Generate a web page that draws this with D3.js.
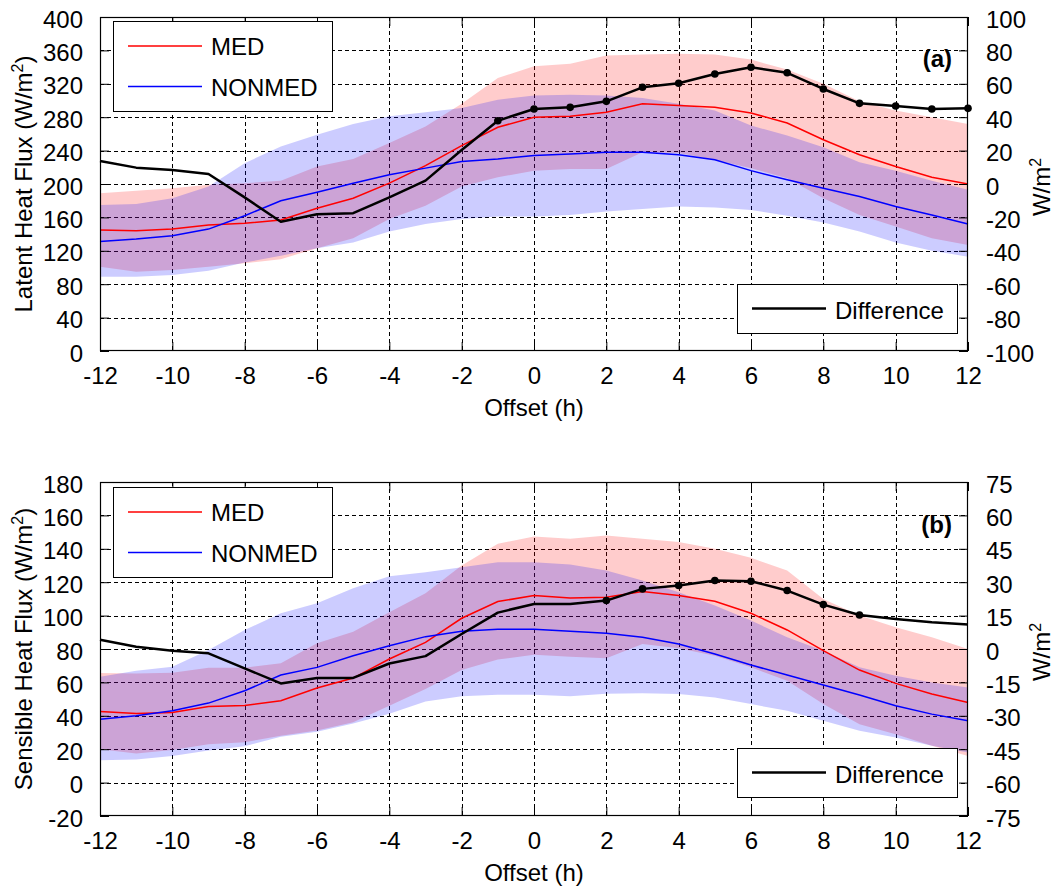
<!DOCTYPE html>
<html><head><meta charset="utf-8">
<script src="https://cdn.jsdelivr.net/npm/d3@7"></script>
<style>
body{margin:0;background:#fff}
svg{display:block}
text{font-family:"Liberation Sans",Arial,Helvetica,sans-serif;fill:#000}
</style>
</head><body>
<svg id="chart" width="1061" height="895"></svg>
<script>
// ---------- data ----------
const offsets = [-12,-11,-10,-9,-8,-7,-6,-5,-4,-3,-2,-1,0,1,2,3,4,5,6,7,8,9,10,11,12];
const xTicks = [-12,-10,-8,-6,-4,-2,0,2,4,6,8,10,12];
const seriesNames = ["MED","NONMED"];
const diffName = "Difference";

// panel (a) latent heat flux
const latentTicks = [0,40,80,120,160,200,240,280,320,360,400];
const latentDiffTicks = [-100,-80,-60,-40,-20,0,20,40,60,80,100];
const latentMed       = [145,144,146,151,153,157,171,183,201,222,246,268,280,281,286,296,294,292,285,273,253,235,221,208,200];
const latentMedUpper  = [189,192,195,199,201,204,221,230,249,269,296,327,341,344,354,355,356,355,349,337,320,299,288,280,272];
const latentMedLower  = [101,95,97,101,105,110,123,135,158,174,197,208,216,218,218,238,237,229,219,207,183,163,149,135,127];
const latentNonmed      = [131,134,138,146,162,180,190,201,211,219,227,230,234,236,238,238,235,229,216,205,195,185,173,163,152];
const latentNonmedUpper = [175,176,183,197,225,245,259,272,281,286,291,301,306,307,306,303,296,288,270,258,244,226,216,204,193];
const latentNonmedLower = [89,89,91,96,106,114,123,130,143,152,158,161,161,163,167,170,173,172,169,162,154,143,130,120,113];
const latentDiff = [13.8,9.8,8.4,6,-8,-22.6,-18.1,-17.5,-8,2,20.4,37.9,44.9,45.9,49.5,57.9,60.3,65.9,69.9,66.6,56.9,48.3,46.7,44.9,45.3];
const latentSigOffsets = [-1,0,1,2,3,4,5,6,7,8,9,10,11,12];

// panel (b) sensible heat flux
const sensibleTicks = [-20,0,20,40,60,80,100,120,140,160,180];
const sensibleDiffTicks = [-75,-60,-45,-30,-15,0,15,30,45,60,75];
const sensibleMed       = [42.6,41.4,42,45.6,46.2,49,56.6,62.6,74,84,98.4,108.4,112,110.6,111,114.4,112,108.6,101.4,91.4,79,67.4,59.4,53,48];
const sensibleMedUpper  = [65.6,65.4,65.8,68.8,68.8,71.4,83.4,90.4,102,113.4,130,143,147.4,146,148,146,144,140,134.6,127,110,100,93,87,80];
const sensibleMedLower  = [20,17.5,19.5,23,24.2,28,31.2,36.2,46,56,67.5,73.7,76.5,75.4,74.5,83,80.5,76,69,61,47,35,29,22,16];
const sensibleNonmed      = [38,40,43,47.6,55,64.4,69,76,82,87.4,90.6,91.8,91.8,90.6,89.4,87,83,77,70.4,64.4,58.4,52.4,46,41,37];
const sensibleNonmedUpper = [63.4,67,69.4,79.4,91.4,101.4,107.4,116.4,123.5,126,129,132,132,130.6,127,121,114,106,97,87,79,69,64,60,57];
const sensibleNonmedLower = [13.4,13.9,15.9,19.2,21.7,27.5,30.5,35.4,41.2,48.5,51.7,52.6,52.6,51.7,53.2,53.5,53,51,47,43,37,31,27,22,18];
const sensibleDiff = [4.2,1.05,-0.75,-1.95,-8.7,-15.45,-13,-13,-6.5,-3.2,6.75,16.35,20.25,20.25,21.75,27,28.5,30.75,30.45,26.25,19.95,15.3,13.5,12,10.95];
const sensibleSigOffsets = [2,3,4,5,6,7,8,9];

// ---------- drawing ----------
const svg = d3.select("#chart");
const FS = 24;
const L = 100, R = 968;
const fmt = d => String(d);   // plain hyphen-minus like the original

function superTitle(sel, before, after) {
  sel.append("tspan").text(before);
  sel.append("tspan").attr("dy", -9).attr("font-size", 16).text("2");
  sel.append("tspan").attr("dy", 9).text(after);
}

function panel(p) {
  const g = svg.append("g");
  const x = d3.scaleLinear().domain([-12, 12]).range([L, R]);
  const y = d3.scaleLinear().domain([p.yTicks[0], p.yTicks[p.yTicks.length-1]]).range([p.bottom, p.top]);
  const y2 = d3.scaleLinear().domain([p.y2Ticks[0], p.y2Ticks[p.y2Ticks.length-1]]).range([p.bottom, p.top]);

  // grid
  const grid = g.append("g").attr("stroke", "#000").attr("stroke-width", 1).attr("stroke-dasharray", "4,3").attr("fill","none");
  grid.selectAll(".gx").data(xTicks.slice(1, -1)).join("line")
    .attr("x1", d => Math.round(x(d)) + 0.5).attr("x2", d => Math.round(x(d)) + 0.5)
    .attr("y1", p.top).attr("y2", p.bottom);
  grid.selectAll(".gy").data(p.yTicks.slice(1, -1)).join("line")
    .attr("x1", L).attr("x2", R)
    .attr("y1", d => Math.round(y(d)) + 0.5).attr("y2", d => Math.round(y(d)) + 0.5);

  const idx = d3.range(offsets.length);
  const area = (lo, hi) => d3.area().x(i => x(offsets[i])).y0(i => y(lo[i])).y1(i => y(hi[i]))(idx);
  const line = (v, sc) => d3.line().x(i => x(offsets[i])).y(i => sc(v[i]))(idx);

  g.append("path").attr("d", area(p.medLo, p.medHi)).attr("fill", "rgba(255,0,0,0.2)");
  g.append("path").attr("d", area(p.nonLo, p.nonHi)).attr("fill", "rgba(0,0,255,0.2)");

  g.append("path").attr("d", line(p.med, y)).attr("fill", "none").attr("stroke", "#ff0000").attr("stroke-width", 1.5);
  g.append("path").attr("d", line(p.non, y)).attr("fill", "none").attr("stroke", "#0000ff").attr("stroke-width", 1.5);
  g.append("path").attr("d", line(p.diff, y2)).attr("fill", "none").attr("stroke", "#000").attr("stroke-width", 2.5).attr("stroke-linejoin", "round");
  g.selectAll(".mk").data(p.sig).join("circle")
    .attr("cx", d => x(d)).attr("cy", d => y2(p.diff[offsets.indexOf(d)])).attr("r", 3.8).attr("fill", "#000");

  // axes (inward ticks)
  const styleAxis = a => {
    a.attr("font-size", null).attr("font-family", null);
    a.select(".domain").remove();
    a.selectAll(".tick line").attr("stroke", "#000");
    a.selectAll("text").attr("font-size", FS);
  };
  g.append("g").attr("transform", `translate(0,${p.bottom})`)
    .call(d3.axisBottom(x).tickValues(xTicks).tickSize(-9).tickSizeOuter(0).tickPadding(16).tickFormat(fmt))
    .call(styleAxis);
  g.append("g").attr("transform", `translate(0,${p.top})`)
    .call(d3.axisTop(x).tickValues(xTicks).tickSize(-9).tickSizeOuter(0).tickFormat(""))
    .call(styleAxis);
  g.append("g").attr("transform", `translate(${L},0)`)
    .call(d3.axisLeft(y).tickValues(p.yTicks).tickSize(-9).tickSizeOuter(0).tickPadding(17).tickFormat(fmt))
    .call(styleAxis).selectAll("text").attr("dy", "0.42em");
  g.append("g").attr("transform", `translate(${R},0)`)
    .call(d3.axisRight(y2).tickValues(p.y2Ticks).tickSize(-9).tickSizeOuter(0).tickPadding(18).tickFormat(fmt))
    .call(styleAxis).selectAll("text").attr("dy", "0.42em");

  g.append("rect").attr("x", L + 0.5).attr("y", p.top + 0.5).attr("width", R - L - 1).attr("height", p.bottom - p.top - 1)
    .attr("fill", "none").attr("stroke", "#000").attr("stroke-width", 1.2);

  // titles
  g.append("text").attr("x", (L + R) / 2 ).attr("y", p.bottom + 65).attr("text-anchor", "middle").attr("font-size", FS).text("Offset (h)");
  const lt = g.append("text").attr("transform", `translate(32,${(p.top + p.bottom) / 2}) rotate(-90)`)
    .attr("text-anchor", "middle").attr("font-size", FS);
  superTitle(lt, p.yTitle + " (W/m", ")");
  const rt = g.append("text").attr("transform", `translate(1050,${(p.top + p.bottom) / 2 + 3}) rotate(-90)`)
    .attr("text-anchor", "middle").attr("font-size", FS);
  superTitle(rt, "W/m", "");
  g.append("text").attr("x", 952).attr("y", p.top + p.labelDy).attr("text-anchor", "end")
    .attr("font-size", 24).attr("font-weight", "bold").text(p.label);

  // legend 1
  const lg = g.append("g").attr("transform", `translate(113,${p.top + p.leg1Dy})`);
  lg.append("rect").attr("x", 0.5).attr("y", 0.5).attr("width", 219).attr("height", 90).attr("fill", "#fff").attr("stroke", "#000");
  const legCols = ["#ff0000", "#0000ff"];
  seriesNames.forEach((n, i) => {
    const yy = 25 + i * 40.5;
    lg.append("line").attr("x1", 15).attr("x2", 89).attr("y1", yy).attr("y2", yy).attr("stroke", legCols[i]).attr("stroke-width", 1.5);
    lg.append("text").attr("x", 98).attr("y", yy + 9).attr("font-size", FS).text(n);
  });
  // legend 2
  const dg = g.append("g").attr("transform", `translate(737,${p.bottom - p.leg2Dy})`);
  dg.append("rect").attr("x", 0.5).attr("y", 0.5).attr("width", 220).attr("height", 49).attr("fill", "#fff").attr("stroke", "#000");
  dg.append("line").attr("x1", 15).attr("x2", 89).attr("y1", 24.5).attr("y2", 24.5).attr("stroke", "#000").attr("stroke-width", 2.5);
  dg.append("text").attr("x", 98).attr("y", 35).attr("font-size", FS).text(diffName);
}

panel({
  top: 17, bottom: 351, yTicks: latentTicks, y2Ticks: latentDiffTicks,
  med: latentMed, medHi: latentMedUpper, medLo: latentMedLower,
  non: latentNonmed, nonHi: latentNonmedUpper, nonLo: latentNonmedLower,
  diff: latentDiff, sig: latentSigOffsets,
  yTitle: "Latent Heat Flux", label: "(a)", labelDy: 50, leg1Dy: 4, leg2Dy: 67
});
panel({
  top: 482, bottom: 816, yTicks: sensibleTicks, y2Ticks: sensibleDiffTicks,
  med: sensibleMed, medHi: sensibleMedUpper, medLo: sensibleMedLower,
  non: sensibleNonmed, nonHi: sensibleNonmedUpper, nonLo: sensibleNonmedLower,
  diff: sensibleDiff, sig: sensibleSigOffsets,
  yTitle: "Sensible Heat Flux", label: "(b)", labelDy: 51, leg1Dy: 5, leg2Dy: 68
});
</script>
</body></html>
